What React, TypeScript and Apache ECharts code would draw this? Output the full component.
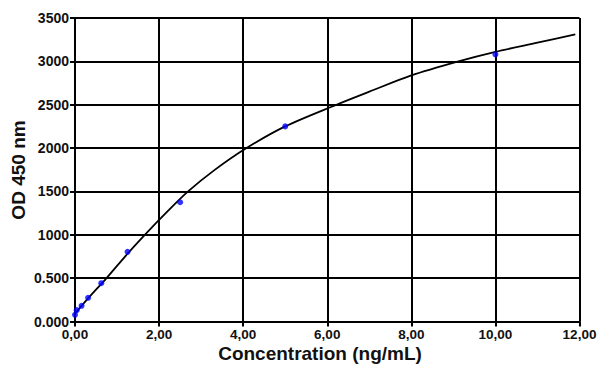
import React, { useEffect, useRef } from "react";
import * as echarts from "echarts";

const concentrations = [0, 0.04, 0.156, 0.3125, 0.625, 1.25, 2.5, 5, 10];
const odValues = [77, 131, 181, 273, 442, 803, 1375, 2250, 3080];

const curveX = [0, 0.3, 0.75, 1.2, 1.66, 2.2, 2.69, 3.3, 4.08, 5, 6.22, 7, 8, 9.12, 10, 11, 11.9];
const curveY = [90, 260, 500, 755, 1000, 1270, 1500, 1740, 2000, 2250, 2500, 2650, 2838, 3000, 3110, 3215, 3310];

const yTickLabels = ["0.000", "0.500", "1000", "1500", "2000", "2500", "3000", "3500"];
const xTickLabels = ["0,00", "2,00", "4,00", "6,00", "8,00", "10,00", "12,00"];

const FONT = "Liberation Sans, Arial, sans-serif";

export default function App() {
  const ref = useRef<HTMLDivElement>(null);
  useEffect(() => {
    if (!ref.current) return;
    const chart = echarts.init(ref.current, undefined, { renderer: "svg" });
    chart.setOption({
      animation: false,
      backgroundColor: "#ffffff",
      grid: { left: 75, right: 20.5, top: 18, bottom: 50.5, containLabel: false },
      xAxis: {
        type: "value",
        min: 0,
        max: 12,
        interval: 2,
        axisLine: { show: true, lineStyle: { color: "#000", width: 2 } },
        axisTick: { show: true, length: 5, lineStyle: { color: "#000", width: 2 } },
        splitLine: { show: true, lineStyle: { color: "#000", width: 2 } },
        axisLabel: {
          margin: 6,
          color: "#111",
          fontFamily: FONT,
          fontWeight: "bold",
          fontSize: 13.5,
          formatter: (_v: number, i: number) => xTickLabels[i],
        },
      },
      yAxis: {
        type: "value",
        min: 0,
        max: 3500,
        interval: 500,
        axisLine: { show: true, lineStyle: { color: "#000", width: 2 } },
        axisTick: { show: true, length: 5, lineStyle: { color: "#000", width: 2 } },
        splitLine: { show: true, lineStyle: { color: "#000", width: 2 } },
        axisLabel: {
          margin: 6,
          color: "#111",
          fontFamily: FONT,
          fontWeight: "bold",
          fontSize: 14,
          formatter: (_v: number, i: number) => yTickLabels[i],
        },
      },
      graphic: [
        {
          type: "text",
          x: 18,
          y: 170,
          rotation: Math.PI / 2,
          style: {
            text: "OD 450 nm",
            fontFamily: FONT,
            fontWeight: "bold",
            fontSize: 19,
            fill: "#111",
            align: "center",
            verticalAlign: "middle",
          },
        },
        {
          type: "text",
          x: 320,
          y: 353,
          style: {
            text: "Concentration (ng/mL)",
            fontFamily: FONT,
            fontWeight: "bold",
            fontSize: 19,
            fill: "#111",
            align: "center",
            verticalAlign: "middle",
          },
        },
      ],
      series: [
        {
          type: "line",
          data: curveX.map((x, i) => [x, curveY[i]]),
          smooth: 0.3,
          showSymbol: false,
          lineStyle: { color: "#000", width: 1.8 },
          z: 3,
        },
        {
          type: "scatter",
          data: concentrations.map((x, i) => [x, odValues[i]]),
          symbolSize: 6,
          itemStyle: { color: "#0000ff" },
          z: 4,
        },
      ],
    });
    return () => chart.dispose();
  }, []);
  return (
    <div
      ref={ref}
      style={{ position: "fixed", left: 0, top: 0, width: 600, height: 372 }}
    />
  );
}
